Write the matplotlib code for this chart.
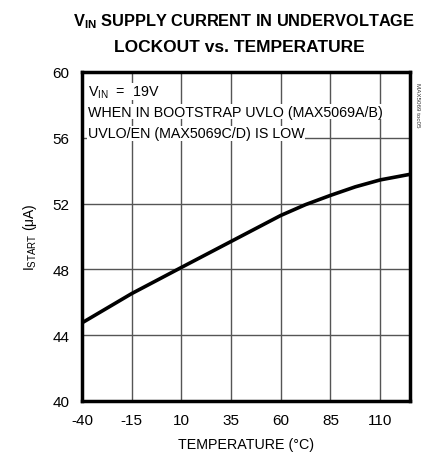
import matplotlib
matplotlib.use("Agg")
import matplotlib.pyplot as plt

temps = [-40, -15, 10, 35, 60, 72.5, 85, 97.5, 110, 125]
istart = [44.75, 46.53, 48.12, 49.70, 51.28, 51.94, 52.50, 53.02, 53.44, 53.78]
xticks = [-40, -15, 10, 35, 60, 85, 110]
yticks = [40, 44, 48, 52, 56, 60]

plt.rcParams['font.family'] = ['Liberation Sans', 'DejaVu Sans']
plt.rcParams['mathtext.fontset'] = 'custom'
plt.rcParams['mathtext.rm'] = 'Liberation Sans'
plt.rcParams['mathtext.it'] = 'Liberation Sans'
plt.rcParams['mathtext.bf'] = 'Liberation Sans:bold'

fig = plt.figure(figsize=(4.21, 4.60), dpi=100)
ax = fig.add_axes([82/421, 1-402/460, (410-82)/421, (402-73)/460])

ax.plot(temps, istart, color='black', lw=2.6, solid_joinstyle='round', zorder=3)
ax.set_xlim(-40, 125)
ax.set_ylim(40, 60)
ax.set_xticks(xticks)
ax.set_yticks(yticks)
ax.set_xticklabels([str(t) for t in xticks], fontsize=11)
ax.set_yticklabels([str(t) for t in yticks], fontsize=11)
ax.tick_params(length=0, pad=9)
ax.grid(True, color='#555555', lw=1.0)
ax.set_axisbelow(True)
for s in ax.spines.values():
    s.set_linewidth(2.5)

ax.set_xlabel('TEMPERATURE (°C)', fontsize=10.3, labelpad=7)
ax.set_ylabel(r'I$_{\mathrm{START}}$ ($\mathrm{\mu}$A)', fontsize=10, labelpad=10)

fig.text(244/421, 1-22/460, r'V$_{\mathbf{IN}}$ SUPPLY CURRENT IN UNDERVOLTAGE',
         ha='center', va='center', fontsize=11.8, fontweight='bold')
fig.text(239/421, 1-47/460, 'LOCKOUT vs. TEMPERATURE',
         ha='center', va='center', fontsize=12.5, fontweight='bold')

bb = dict(facecolor='white', edgecolor='none', pad=0.3)
ax.text(0.018, 0.965, r'V$_{\mathrm{IN}}$  =  19V', transform=ax.transAxes,
        fontsize=10.3, va='top', ha='left', bbox=bb, zorder=4)
ax.text(0.018, 0.900, 'WHEN IN BOOTSTRAP UVLO (MAX5069A/B)', transform=ax.transAxes,
        fontsize=10.3, va='top', ha='left', bbox=bb, zorder=4)
ax.text(0.018, 0.835, 'UVLO/EN (MAX5069C/D) IS LOW', transform=ax.transAxes,
        fontsize=10.3, va='top', ha='left', bbox=bb, zorder=4)

fig.text(417/421, 1-105/460, 'MAX5069 toc05', rotation=270, fontsize=4.5,
         ha='center', va='center', color='#333333')

fig.savefig('out.png', dpi=100)
